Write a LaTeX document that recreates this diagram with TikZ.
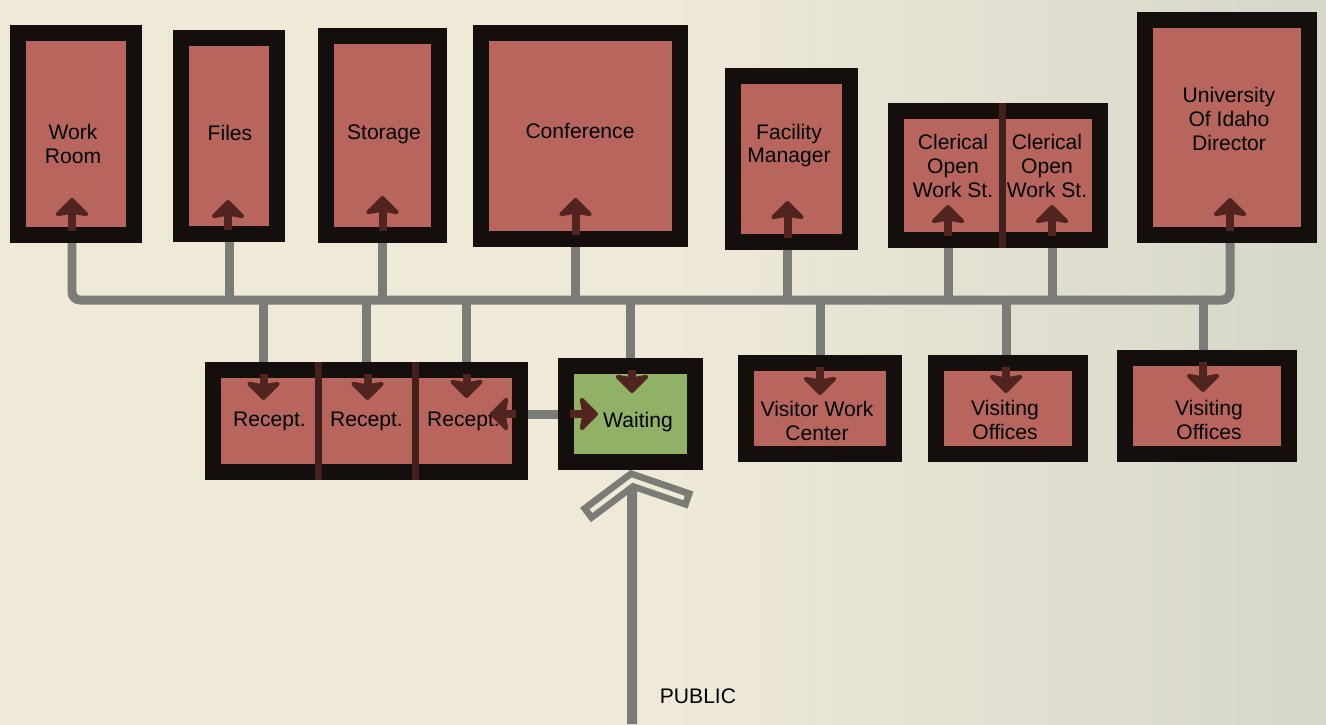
\documentclass[tikz,border=0pt]{standalone}
\usepackage{fontspec}
\setmainfont{Liberation Sans}
\usetikzlibrary{arrows.meta, positioning, calc, backgrounds}
\definecolor{paper}{RGB}{239,233,216}
\definecolor{paperdark}{RGB}{214,215,201}
\definecolor{roomred}{RGB}{184,102,93}
\definecolor{waitgreen}{RGB}{145,178,102}
\definecolor{inkblack}{RGB}{20,14,12}
\definecolor{wiregray}{RGB}{124,124,119}
\definecolor{arrowbrown}{RGB}{82,36,31}
\definecolor{dividerbrown}{RGB}{66,33,28}
\tikzset{
  % Room box (thick ink frame)
  room/.style={
    rectangle, fill=roomred, draw=inkblack, line width=0.32cm,
    inner sep=0pt
  },
  % Box size, given in reference pixels
  roomsize/.style 2 args={
    minimum width=#1*0.02cm, minimum height=#2*0.02cm
  },
  % Cell of a split box
  cell/.style={
    rectangle, inner sep=0pt, outer sep=0pt,
    font=\fontsize{12}{13.6}\selectfont, align=center
  },
  % Room name
  roomtext/.style={
    inner sep=0pt, font=\fontsize{12}{13.6}\selectfont, align=center
  },
  % Divider between cells
  divider/.style={draw=dividerbrown, line width=0.14cm},
  % Corridor line
  wire/.style={draw=wiregray, line width=0.18cm},
  % Arrow into a room
  inarrow/.style={
    draw=arrowbrown, line width=0.16cm,
    -{Stealth[length=0.4cm, width=0.8cm, inset=0.07cm, round]}
  },
  % Public entry
  entry/.style={draw=wiregray, line width=0.2cm},
  chevron/.style={draw=wiregray, line width=0.36cm},
  chevroncore/.style={draw=paper, line width=0.09cm},
}

\begin{document}
\begin{tikzpicture}[x=0.02cm, y=-0.02cm]
\useasboundingbox (0,0) rectangle (1326,724);

%% ── TOP ROW ──────────────────────────────────────────────────────────────

\node[room, roomsize={116}{202}] (workroom) at (76,134) {};
\node[roomtext] (workroom-txt) at (73,144) {Work\\Room};

\node[room, roomsize={96}{196}] (files) at (229,136) {};
\node[roomtext] (files-txt) at (230,132.5) {Files};

\node[room, roomsize={113}{199}] (storage) at (382.5,135.5) {};
\node[roomtext] (storage-txt) at (384,134) {Storage};

\node[room, roomsize={199}{206}] (conference) at (580.5,136) {};
\node[roomtext] (conference-txt) at (580,131) {Conference};

\node[room, roomsize={117}{166}] (facility) at (791.5,159) {};
\node[roomtext] (facility-txt) at (789,145.5) {Facility\\Manager};

\node[room, roomsize={204}{129}] (clerical) at (998,175.5) {};
\node[cell, roomsize={98}{94}] (clerA) at (953,166) {Clerical\\Open\\Work St.};
\node[cell, roomsize={90}{94}, right=0pt of clerA] (clerB) {Clerical\\Open\\Work St.};

\node[room, roomsize={164}{215}] (director) at (1227,127.5) {};
\node[roomtext] (director-txt) at (1229,119) {University\\Of Idaho\\Director};

%% ── BOTTOM ROW ───────────────────────────────────────────────────────────

\node[room, roomsize={307}{102}] (recept) at (366.5,421) {};
\node[cell, roomsize={97}{86}] (recA) at (269.5,421) {Recept.};
\node[cell, roomsize={97}{86}, right=0pt of recA] (recB) {Recept.};
\node[cell, roomsize={97}{86}, right=0pt of recB] (recC) {Recept.};

\node[room, fill=waitgreen, roomsize={129}{96}] (waiting) at (630.5,414) {};
\node[roomtext] (waiting-txt) at (638,422) {Waiting};

\node[room, roomsize={148}{91}] (visitor) at (820,408.5) {};
\node[roomtext] (visitor-txt) at (817,421) {Visitor Work\\Center};

\node[room, roomsize={144}{91}] (visitingA) at (1008,408.5) {};
\node[roomtext] (visitingA-txt) at (1005,420) {Visiting\\Offices};

\node[room, roomsize={164}{96}] (visitingB) at (1207,406) {};
\node[roomtext] (visitingB-txt) at (1209,420) {Visiting\\Offices};

\node[roomtext] (public) at (698,696) {PUBLIC};
\coordinate (public-end) at (632,724);

% dividers of the split boxes
\draw[divider] (clerA.east |- clerical.north) -- (clerA.east |- clerical.south);
\draw[divider] (recA.east |- recept.north) -- (recA.east |- recept.south);
\draw[divider] (recB.east |- recept.north) -- (recB.east |- recept.south);

%% ── CORRIDOR ─────────────────────────────────────────────────────────────

\coordinate (bus-w) at (72,300);
\coordinate (bus-e) at (1230,300);

\begin{scope}[on background layer]
  \shade[left color=paper, right color=paperdark, middle color=paper]
    (0,0) rectangle (1326,724);

  \draw[wire, rounded corners=0.16cm] ($(workroom.south)+(-4,0)$) -- (bus-w)
    -- (bus-e) -- ($(director.south)+(3,0)$);

  % up to the top row
  \draw[wire] (files.south) -- (files.south |- bus-w);
  \draw[wire] (storage.south) -- (storage.south |- bus-w);
  \draw[wire] ($(conference.south)+(-5,0)$) coordinate (conf-tap) -- (conf-tap |- bus-w);
  \draw[wire] ($(facility.south)+(-4,0)$) coordinate (fac-tap) -- (fac-tap |- bus-w);
  \draw[wire] ($(clerA |- clerical.south)+(-5,0)$) coordinate (clerA-tap) -- (clerA-tap |- bus-w);
  \draw[wire] ($(clerB |- clerical.south)+(5,0)$) coordinate (clerB-tap) -- (clerB-tap |- bus-w);

  % down to the bottom row
  \draw[wire] ($(recA |- recept.north)+(-6,0)$) coordinate (recA-tap) -- (recA-tap |- bus-w);
  \draw[wire] (recB |- recept.north) -- (recB |- bus-w);
  \draw[wire] ($(recC |- recept.north)+(3,0)$) coordinate (recC-tap) -- (recC-tap |- bus-w);
  \draw[wire] (waiting.north) -- (waiting.north |- bus-w);
  \draw[wire] (visitor.north) -- (visitor.north |- bus-w);
  \draw[wire] ($(visitingA.north)+(-2,0)$) coordinate (visA-tap) -- (visA-tap |- bus-w);
  \draw[wire] ($(visitingB.north)+(-4,0)$) coordinate (visB-tap) -- (visB-tap |- bus-w);

  % waiting to reception
  \draw[wire] (waiting.west) -- (waiting.west -| recept.east);

  % public entry
  \draw[chevron] ($(waiting.south)+(-45,45)$) -- ($(waiting.south)+(1.5,10)$)
    -- ($(waiting.south)+(60,30)$);
  \draw[chevroncore] ($(waiting.south)+(-39.5,41)$) -- ($(waiting.south)+(1.5,10)$)
    -- ($(waiting.south)+(53.5,28)$);
  \draw[entry] (public-end) -- ($(waiting.south)+(1.5,18)$);
\end{scope}

%% ── ARROWS INTO ROOMS ────────────────────────────────────────────────────

\draw[inarrow] ($(workroom.south)+(-4,-12)$) -- ++(0,-33);
\draw[inarrow] ($(files.south)+(-1,-12)$) -- ++(0,-30);
\draw[inarrow] ($(storage.south)+(0,-12)$) -- ++(0,-35);
\draw[inarrow] ($(conference.south)+(-5,-12)$) -- ++(0,-37);
\draw[inarrow] ($(facility.south)+(-4,-12)$) -- ++(0,-37);
\draw[inarrow] ($(clerA |- clerical.south)+(-5,-12)$) -- ++(0,-31);
\draw[inarrow] ($(clerB |- clerical.south)+(5,-12)$) -- ++(0,-31);
\draw[inarrow] ($(director.south)+(3,-12)$) -- ++(0,-33);

\draw[inarrow] ($(recA |- recept.north)+(-6,12)$) -- ++(0,26);
\draw[inarrow] ($(recB |- recept.north)+(1,12)$) -- ++(0,26);
\draw[inarrow] ($(recC |- recept.north)+(3,12)$) -- ++(0,24);
\draw[inarrow] ($(waiting.north)+(1.5,12)$) -- ++(0,23);
\draw[inarrow] ($(visitor.north)+(0,12)$) -- ++(0,28);
\draw[inarrow] ($(visitingA.north)+(-2,12)$) -- ++(0,26);
\draw[inarrow] ($(visitingB.north)+(-4,12)$) -- ++(0,30);

\draw[inarrow] ($(waiting.west -| recept.east)+(-12,0)$) -- ++(-26,0);
\draw[inarrow] ($(waiting.west)+(12,0)$) -- ++(28,0);

\end{tikzpicture}
\end{document}
